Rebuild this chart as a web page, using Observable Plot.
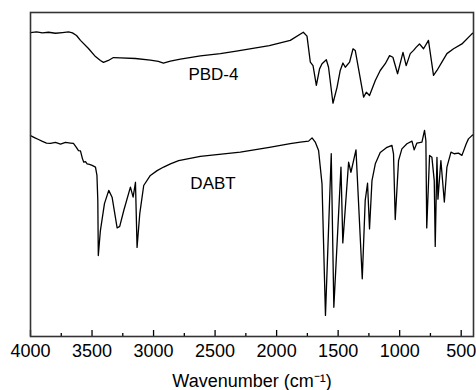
<!DOCTYPE html>
<html>
<head>
<meta charset="utf-8">
<script src="https://cdn.jsdelivr.net/npm/d3@7"></script>
<script src="https://cdn.jsdelivr.net/npm/@observablehq/plot@0.6"></script>
<style>
  html, body { margin: 0; padding: 0; background: white; }
</style>
</head>
<body>
<div id="chart"></div>
<script>
// PBD-4 spectrum (wavenumber, transmittance a.u.)
const pbdWave = [4000,3951,3903,3854,3797,3740,3691,3659,3626,3594,3529,3472,3432,3407,3367,3326,3269,3147,3026,2961,2920,2863,2782,2619,2457,2327,2059,1889,1783,1753,1726,1704,1677,1651,1631,1596,1578,1542,1509,1483,1461,1442,1407,1379,1361,1334,1293,1271,1245,1198,1158,1117,1082,1055,1017,973,947,914,887,865,839,806,766,725,697,657,616,562,494,413,403];
const pbdT = [93.8,94.0,93.7,93.9,93.6,93.8,94.0,93.7,92.9,91.4,88.9,86.4,85.2,84.6,85.2,86.1,86.0,85.8,85.3,84.9,84.4,85.0,85.6,86.6,87.3,88.1,89.8,91.4,93.9,92.7,84.7,83.6,77.5,82.6,84.2,85.4,83.1,72.0,76.9,82.1,84.4,83.1,84.7,88.8,88.3,82.6,73.9,75.4,74.4,79.0,82.1,84.2,86.7,86.2,81.1,87.7,83.6,87.3,88.3,89.3,90.3,88.8,91.4,80.6,82.1,84.7,87.3,88.8,90.3,93.4,93.7];

// DABT spectrum (wavenumber, transmittance a.u.)
const dabtWave = [4000,3968,3935,3903,3870,3838,3797,3756,3716,3675,3651,3626,3610,3594,3578,3567,3553,3540,3521,3499,3472,3460,3453,3449,3432,3399,3364,3337,3296,3275,3242,3188,3166,3147,3134,3112,3080,3026,2971,2918,2863,2796,2620,2295,2059,1889,1807,1740,1712,1686,1659,1631,1603,1556,1535,1477,1462,1415,1396,1355,1304,1280,1261,1245,1225,1198,1158,1103,1063,1050,1036,1009,982,941,900,882,860,819,798,787,780,757,738,719,711,697,689,665,637,616,583,557,522,494,459,441,413,403];
const dabtT = [62.0,61.4,60.8,60.2,59.7,59.6,59.9,59.4,59.9,59.7,59.6,58.3,57.4,57.3,54.9,53.8,54.0,53.3,53.1,52.8,52.3,49.7,42.0,25.0,32.7,41.0,45.1,43.0,33.5,34.0,38.9,46.1,43.0,47.6,27.5,37.9,46.6,49.7,51.2,52.3,53.3,54.3,55.6,56.9,58.4,59.5,60.0,60.3,61.3,60.0,57.4,47.1,6.5,56.4,9.0,52.3,28.9,53.8,50.7,57.6,17.8,42.0,47.3,33.2,48.1,53.3,56.8,58.4,59.0,56.4,36.1,54.3,57.9,59.5,60.3,57.6,59.7,60.0,63.6,60.5,33.5,55.9,55.3,48.1,27.8,55.3,42.4,54.3,41.5,52.3,56.9,56.4,56.6,55.9,59.5,61.0,62.0,62.3];

const xTicks = [4000,3500,3000,2500,2000,1500,1000,500];
const xMinorTicks = [3750,3250,2750,2250,1750,1250,750];

const labelNames = ["PBD-4","DABT"];
const labelWave = [2717,2701];
const labelT = [80.8,47.1];

const pbd = pbdWave.map((w,i) => ({w, t: pbdT[i]}));
const dabt = dabtWave.map((w,i) => ({w, t: dabtT[i]}));
const labels = labelNames.map((name,i) => ({name, w: labelWave[i], t: labelT[i]}));

const chart = Plot.plot({
  width: 476,
  height: 390,
  marginTop: 12,
  marginBottom: 54,
  marginLeft: 30,
  marginRight: 3,
  style: {fontFamily: "'Liberation Sans', Arial, sans-serif", fontSize: "18px", color: "black", background: "white"},
  x: {domain: [4000, 400]},
  y: {domain: [0, 100], axis: null},
  marks: [
    Plot.axisX({ticks: xMinorTicks, tickSize: -3, tickFormat: () => "", label: null, strokeWidth: 1.3}),
    Plot.axisX({ticks: xTicks, tickSize: -6, tickFormat: () => "", label: null, strokeWidth: 1.3}),
    Plot.axisX({ticks: xTicks, tickSize: 0, tickPadding: 8, fontSize: 18, tickFormat: d => String(d),
      label: "Wavenumber (cm\u207B\u00B9)", labelAnchor: "center", labelArrow: "none", labelOffset: 50}),
    Plot.line(pbd, {x: "w", y: "t", stroke: "black", strokeWidth: 1.3}),
    Plot.line(dabt, {x: "w", y: "t", stroke: "black", strokeWidth: 1.3}),
    Plot.text(labels, {x: "w", y: "t", text: "name", textAnchor: "start", fontSize: 17, fill: "black"}),
    Plot.frame({stroke: "#333", strokeWidth: 1.6})
  ]
});
document.getElementById("chart").appendChild(chart);
</script>
</body>
</html>
